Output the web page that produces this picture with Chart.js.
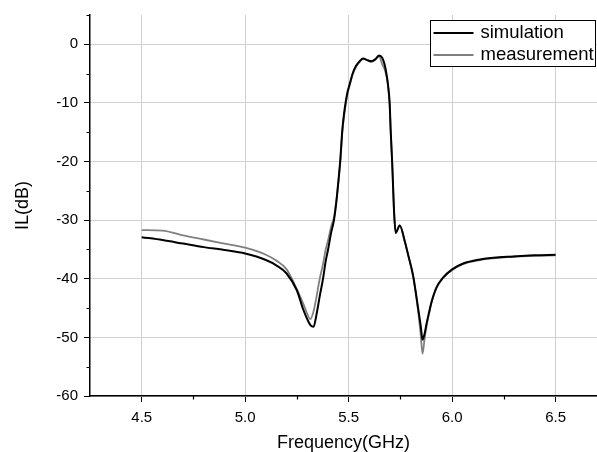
<!DOCTYPE html>
<html>
<head>
<meta charset="utf-8">
<script src="https://cdn.jsdelivr.net/npm/chart.js@4.4.0/dist/chart.umd.min.js"></script>
<style>
html, body { margin: 0; padding: 0; background: #fff; }
</style>
</head>
<body>
<canvas id="canvas" width="597" height="452"></canvas>
<script>
// frequency points (GHz) shared by both curves
const freq = [4.5, 4.6, 4.7, 4.8, 4.9, 5.0, 5.1, 5.15, 5.2, 5.25, 5.28, 5.3, 5.315, 5.33, 5.345, 5.36, 5.376, 5.389, 5.4, 5.416,
  5.429, 5.44, 5.45, 5.46, 5.469, 5.477, 5.485, 5.494, 5.504, 5.52, 5.535, 5.553, 5.57, 5.59, 5.61, 5.63, 5.647, 5.662, 5.674, 5.685,
  5.69, 5.698, 5.703, 5.71, 5.72, 5.727, 5.747, 5.771, 5.79, 5.811, 5.835, 5.848, 5.857, 5.866, 5.876, 5.888,
  5.9, 5.924, 5.956, 6.0, 6.053, 6.134, 6.2, 6.3, 6.4, 6.5];
const simulation = [-32.9, -33.4, -34.0, -34.6, -35.1, -35.7, -36.8, -37.7, -39.1, -42.0, -45.2, -46.9, -47.9, -48.2, -46.0, -43.0, -40.0, -37.0, -35.1, -32.0,
  -30.0, -27.0, -23.5, -19.5, -14.7, -12.0, -10.0, -8.2, -6.9, -4.9, -3.7, -2.9, -2.4, -2.7, -2.9, -2.5, -1.9, -2.3, -3.5, -5.6,
  -6.9, -10.0, -14.7, -20.0, -29.0, -32.2, -30.9, -33.6, -36.3, -39.4, -44.9, -48.0, -50.4, -49.5, -47.7, -45.8,
  -44.0, -41.5, -39.8, -38.4, -37.4, -36.7, -36.4, -36.2, -36.0, -35.9];
const measurement = [-31.7, -31.8, -32.6, -33.3, -34.0, -34.7, -35.9, -36.9, -38.4, -41.8, -44.2, -46.0, -46.9, -45.6, -43.0, -40.0, -37.5, -35.0, -33.5, -31.0,
  -29.5, -26.8, -23.5, -19.8, -15.2, -12.5, -10.4, -8.5, -7.1, -5.1, -3.9, -3.0, -2.5, -2.7, -3.0, -2.6, -2.0, -3.4, -4.3, -5.8,
  -7.0, -10.3, -14.8, -20.0, -29.0, -32.0, -30.9, -33.6, -36.3, -39.5, -45.3, -49.5, -52.8, -50.5, -48.2, -46.0,
  -44.1, -41.6, -39.9, -38.5, -37.5, -36.8, -36.5, -36.2, -36.1, -36.0];

const xTicks = [4.5, 5.0, 5.5, 6.0, 6.5];
const yTicks = [-60, -50, -40, -30, -20, -10, 0];
const xMinor = [4.75, 5.25, 5.75, 6.25];
const yMinor = [-55, -45, -35, -25, -15, -5, 5];

Chart.defaults.font.family = "'Liberation Sans', Arial, sans-serif";
Chart.defaults.color = '#000';

// small outward minor ticks, like the origin plot
const minorTicks = {
  id: 'minorTicks',
  afterDraw(chart) {
    const ctx = chart.ctx;
    const a = chart.chartArea;
    const x = chart.scales.x, y = chart.scales.y;
    ctx.save();
    ctx.strokeStyle = '#000';
    ctx.lineWidth = 1.2;
    ctx.beginPath();
    xMinor.forEach(v => {
      const px = Math.round(x.getPixelForValue(v)) + 0.5;
      ctx.moveTo(px, a.bottom);
      ctx.lineTo(px, a.bottom + 3.5);
    });
    yMinor.forEach(v => {
      const py = Math.round(y.getPixelForValue(v)) + 0.5;
      ctx.moveTo(a.left, py);
      ctx.lineTo(a.left - 3.5, py);
    });
    ctx.stroke();
    ctx.restore();
  }
};

// boxed legend in the top right corner
const boxLegend = {
  id: 'boxLegend',
  afterDraw(chart) {
    const ctx = chart.ctx;
    const left = 430.5, top = 20.5, w = 165, h = 46;
    ctx.save();
    ctx.fillStyle = '#fff';
    ctx.fillRect(left, top, w, h);
    ctx.strokeStyle = '#000';
    ctx.lineWidth = 1;
    ctx.strokeRect(left, top, w, h);
    ctx.font = "18.5px 'Liberation Sans', Arial, sans-serif";
    ctx.textBaseline = 'middle';
    ctx.fillStyle = '#000';
    chart.data.datasets.forEach((ds, i) => {
      const yy = top + 12.5 + i * 22;
      ctx.strokeStyle = ds.borderColor;
      ctx.lineWidth = 2;
      ctx.beginPath();
      ctx.moveTo(left + 3, yy);
      ctx.lineTo(left + 43, yy);
      ctx.stroke();
      ctx.fillText(ds.label, left + 50, yy);
    });
    ctx.restore();
  }
};

function createChart() {
  const data = {
    datasets: [{
      label: 'simulation',
      borderColor: '#000',
      borderWidth: 2,
      data: freq.map((f, i) => ({ x: f, y: simulation[i] })),
    }, {
      label: 'measurement',
      borderColor: '#808080',
      borderWidth: 1.8,
      data: measurement.map((v, i) => ({ x: freq[i], y: v })),
    }]
  };
  const config = {
    type: 'line',
    data: data,
    options: {
      responsive: false,
      animation: false,
      devicePixelRatio: 1,
      layout: { padding: { top: 14, right: 0, left: 0, bottom: 0 } },
      elements: {
        point: { radius: 0 },
        line: { tension: 0.4, cubicInterpolationMode: 'monotone' }
      },
      plugins: { legend: { display: false }, tooltip: { enabled: false } },
      scales: {
        x: {
          type: 'linear',
          min: 4.25,
          max: 6.7,
          afterBuildTicks: s => { s.ticks = xTicks.map(v => ({ value: v })); },
          afterFit: s => { s.height = 56; },
          ticks: { font: { size: 15 }, padding: 7, maxRotation: 0, callback: v => v.toFixed(1) },
          grid: { color: '#d0d0d0', lineWidth: 1, tickColor: '#000', tickLength: 6 },
          border: { color: '#000', width: 1.5 },
          title: { display: true, text: 'Frequency(GHz)', font: { size: 18, lineHeight: 1 }, padding: { top: 0, bottom: 0 } }
        },
        y: {
          min: -60,
          max: 5,
          afterBuildTicks: s => { s.ticks = yTicks.map(v => ({ value: v })); },
          afterFit: s => { s.width = 90; },
          ticks: { font: { size: 15 }, padding: 6 },
          grid: { color: '#d0d0d0', lineWidth: 1, tickColor: '#000', tickLength: 6 },
          border: { color: '#000', width: 1.5 },
          title: { display: true, text: 'IL(dB)', font: { size: 18 }, padding: { top: 12, bottom: 0 } }
        }
      }
    },
    plugins: [minorTicks, boxLegend]
  };
  new Chart(document.getElementById('canvas'), config);
}

window.onload = function () {
  createChart();
};
</script>
</body>
</html>
